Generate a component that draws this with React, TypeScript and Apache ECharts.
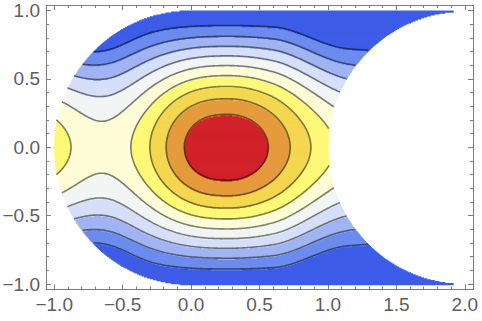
import React, { useEffect, useRef } from "react";
import * as echarts from "echarts";

// ---- axes / ticks ----
const xRange = [-1.06, 2.06];
const yRange = [-1.04, 1.04];
const xMajorTicks = [-1, -0.5, 0, 0.5, 1, 1.5, 2];
const yMajorTicks = [-1, -0.5, 0, 0.5, 1];
const xMinorTicks = [-0.9, -0.8, -0.7, -0.6, -0.4, -0.3, -0.2, -0.1, 0.1, 0.2, 0.3, 0.4, 0.6, 0.7, 0.8, 0.9, 1.1, 1.2, 1.3, 1.4, 1.6, 1.7, 1.8, 1.9];
const yMinorTicks = [-0.9, -0.8, -0.7, -0.6, -0.4, -0.3, -0.2, -0.1, 0.1, 0.2, 0.3, 0.4, 0.6, 0.7, 0.8, 0.9];

// ---- contour levels and band colours (low -> high) ----
const contourLevels = [1, 2, 3, 4, 5, 6, 7, 8, 9];
const bandColors = ["#3d5de8", "#6c8bee", "#a0b4f3", "#d6dffa", "#f3f5f4", "#fdfcd6", "#fdf978", "#f4d650", "#e59b3d", "#d02228"];

// ---- field (peak near x=0.27, ridge along y=0, rise at left rim) ----
const peakParams = [0.27, 4.5, 5.4]; // centre x, base, amplitude
const peakLeftShape = [0.631, 2.5]; // width, power
const peakRightShape = [0.69, 2];
const leftBump = [2.45, -1.17, 0.401]; // amplitude, centre, width
const leftPinch = [2.2, -0.5, 0.1]; // strength, x, softness
const rightPinch = [0.13, 0.6, 1.15]; // amount, from x, to x
const yProfilePower = [1.3];

// ---- region: unit disk ∪ strip x≥0, minus disk at (2,0) ----
const regionDisks = [[0, 0, 1], [2, 0, 1]];
const regionBox = [-1, 2, -1, 1];

function inside(x: number, y: number) {
  if (x < regionBox[0] || x > regionBox[1] || y < regionBox[2] || y > regionBox[3]) return false;
  const [ax, ay, ar] = regionDisks[0];
  if (x < 0 && (x - ax) ** 2 + (y - ay) ** 2 > ar * ar) return false;
  const [bx, by, br] = regionDisks[1];
  if ((x - bx) ** 2 + (y - by) ** 2 < br * br) return false;
  return true;
}

function ridge(x: number) {
  const dx = x - peakParams[0];
  const p = dx < 0 ? Math.exp(-Math.pow(-dx / peakLeftShape[0], peakLeftShape[1])) : Math.exp(-Math.pow(dx / peakRightShape[0], peakRightShape[1]));
  const r = leftBump[0] * Math.exp(-(((x - leftBump[1]) / leftBump[2]) ** 2));
  return peakParams[1] + peakParams[2] * p + r;
}

function smoothstep(a: number, b: number, x: number) {
  const t = Math.min(1, Math.max(0, (x - a) / (b - a)));
  return t * t * (3 - 2 * t);
}

function field(x: number, y: number) {
  const q = leftPinch[0] / (1 + Math.exp((x - leftPinch[1]) / leftPinch[2]));
  const w = 1 - rightPinch[0] * smoothstep(rightPinch[1], rightPinch[2], x);
  const u = Math.min(Math.abs(y) / w, 1);
  const h = Math.pow(Math.cos((u * Math.PI) / 2), yProfilePower[0]);
  return ridge(x) * h - q * y * y;
}

function bandOf(v: number) {
  let b = 0;
  for (const L of contourLevels) if (v >= L) b++;
  return b;
}

// ---- filled bands as row runs ----
function buildRuns() {
  const ROWS = 280, COLS = 1500;
  const runs: number[][] = [];
  for (let j = 0; j < ROWS; j++) {
    const y0 = -1 + (j * 2) / ROWS, y1 = -1 + ((j + 1) * 2) / ROWS, yc = (y0 + y1) / 2;
    let cur = -2, start = 0;
    for (let i = 0; i <= COLS; i++) {
      const xc = -1 + ((i + 0.5) * 3) / COLS;
      const b = i < COLS && inside(xc, yc) ? bandOf(field(xc, yc)) : -1;
      if (b !== cur) {
        if (cur >= 0) runs.push([-1 + (start * 3) / COLS, -1 + (i * 3) / COLS, y0, y1, cur]);
        cur = b;
        start = i;
      }
    }
  }
  return runs;
}

// ---- contour lines via marching squares ----
const STEP = 0.008, NX = 375, NY = 250;
function buildContours() {
  const W = NX + 1;
  const gv = new Float64Array(W * (NY + 1));
  for (let j = 0; j <= NY; j++) for (let i = 0; i <= NX; i++) gv[j * W + i] = field(-1 + i * STEP, -1 + j * STEP);
  const table: Record<number, number[][]> = {
    1: [[3, 0]], 2: [[0, 1]], 3: [[3, 1]], 4: [[1, 2]], 6: [[0, 2]], 7: [[3, 2]], 8: [[2, 3]], 9: [[0, 2]],
    11: [[1, 2]], 12: [[1, 3]], 13: [[0, 1]], 14: [[0, 3]],
  };
  const all: number[][][] = [];
  for (const L of contourLevels) {
    const segA: number[] = [], segB: number[] = [];
    const pts = new Map<number, number[]>();
    const adj = new Map<number, number[]>();
    const edge = (i: number, j: number, dir: number) => {
      const key = (j * W + i) * 2 + dir;
      if (!pts.has(key)) {
        const a = gv[j * W + i];
        const b = dir === 0 ? gv[j * W + i + 1] : gv[(j + 1) * W + i];
        const t = (L - a) / (b - a);
        pts.set(key, dir === 0 ? [-1 + (i + t) * STEP, -1 + j * STEP] : [-1 + i * STEP, -1 + (j + t) * STEP]);
      }
      return key;
    };
    for (let j = 0; j < NY; j++) {
      for (let i = 0; i < NX; i++) {
        const v0 = gv[j * W + i], v1 = gv[j * W + i + 1], v2 = gv[(j + 1) * W + i + 1], v3 = gv[(j + 1) * W + i];
        const c = (v0 >= L ? 1 : 0) | (v1 >= L ? 2 : 0) | (v2 >= L ? 4 : 0) | (v3 >= L ? 8 : 0);
        if (c === 0 || c === 15) continue;
        let pairs = table[c];
        if (c === 5 || c === 10) {
          const hi = (v0 + v1 + v2 + v3) / 4 >= L;
          if (c === 5) pairs = hi ? [[0, 1], [2, 3]] : [[3, 0], [1, 2]];
          else pairs = hi ? [[3, 0], [1, 2]] : [[0, 1], [2, 3]];
        }
        const ek = (e: number) => (e === 0 ? edge(i, j, 0) : e === 1 ? edge(i + 1, j, 1) : e === 2 ? edge(i, j + 1, 0) : edge(i, j, 1));
        for (const [ea, eb] of pairs) {
          const ka = ek(ea), kb = ek(eb);
          const pa = pts.get(ka)!, pb = pts.get(kb)!;
          if (!inside((pa[0] + pb[0]) / 2, (pa[1] + pb[1]) / 2)) continue;
          const s = segA.length;
          segA.push(ka);
          segB.push(kb);
          if (!adj.has(ka)) adj.set(ka, []);
          if (!adj.has(kb)) adj.set(kb, []);
          adj.get(ka)!.push(s);
          adj.get(kb)!.push(s);
        }
      }
    }
    const used = new Uint8Array(segA.length);
    const walk = (start: number) => {
      const out: number[] = [];
      let key = start;
      for (;;) {
        const list = adj.get(key) || [];
        let nx = -1;
        for (const t of list) if (!used[t]) { nx = t; break; }
        if (nx < 0) break;
        used[nx] = 1;
        key = segA[nx] === key ? segB[nx] : segA[nx];
        out.push(key);
      }
      return out;
    };
    for (let s = 0; s < segA.length; s++) {
      if (used[s]) continue;
      used[s] = 1;
      const fwd = walk(segB[s]);
      const back = walk(segA[s]);
      const keys = back.reverse().concat([segA[s], segB[s]], fwd);
      all.push(keys.map((k) => pts.get(k)!));
    }
  }
  return all;
}

const frameColor = "#7d7d7d";
const labelColor = "#5e5e5e";
const fmt = (v: number) => (v < 0 ? "\u2212" : "") + Math.abs(v).toFixed(1);

function axis(position: string, range: number[], values: number[], len: number, label: boolean, line: boolean, margin: number) {
  return {
    type: "value",
    position,
    min: range[0],
    max: range[1],
    axisLine: { show: line, onZero: false, lineStyle: { color: frameColor, width: 1 } },
    axisTick: { show: true, inside: true, length: len, customValues: values, lineStyle: { color: frameColor, width: 1 } },
    axisLabel: label
      ? { show: true, customValues: values, formatter: fmt, color: labelColor, fontSize: 19, fontFamily: "'Liberation Sans', Arial, sans-serif", margin }
      : { show: false },
    splitLine: { show: false },
  };
}

export default function App() {
  const ref = useRef<HTMLDivElement>(null);
  useEffect(() => {
    document.body.style.margin = "0";
    const chart = echarts.init(ref.current!, null, { renderer: "svg" });
    const runs = buildRuns();
    const chains = buildContours();
    const lineSeries = chains.map((c) => ({
      type: "line",
      data: c,
      xAxisIndex: 0,
      yAxisIndex: 0,
      showSymbol: false,
      symbol: "none",
      silent: true,
      z: 3,
      lineStyle: { color: "rgba(0,0,0,0.5)", width: 1.6 },
    }));
    chart.setOption({
      animation: false,
      grid: { left: 46, right: 9, top: 5, bottom: 31.5, containLabel: false, outerBoundsMode: "none" },
      xAxis: [
        axis("bottom", xRange, xMajorTicks, 5, true, true, 5),
        axis("bottom", xRange, xMinorTicks, 3, false, false, 0),
        axis("top", xRange, xMajorTicks, 5, false, true, 0),
        axis("top", xRange, xMinorTicks, 3, false, false, 0),
      ],
      yAxis: [
        axis("left", yRange, yMajorTicks, 5, true, true, 6),
        axis("left", yRange, yMinorTicks, 3, false, false, 0),
        axis("right", yRange, yMajorTicks, 5, false, true, 0),
        axis("right", yRange, yMinorTicks, 3, false, false, 0),
      ],
      series: [
        {
          type: "custom",
          xAxisIndex: 0,
          yAxisIndex: 0,
          silent: true,
          z: 1,
          encode: { x: [0, 1], y: [2, 3] },
          data: runs,
          renderItem: (_p: any, api: any) => {
            const a = api.coord([api.value(0), api.value(3)]);
            const b = api.coord([api.value(1), api.value(2)]);
            return {
              type: "rect",
              shape: { x: a[0], y: a[1], width: b[0] - a[0] + 0.4, height: b[1] - a[1] + 1.2 },
              style: { fill: bandColors[api.value(4)] },
            };
          },
        },
        ...lineSeries,
      ],
    });
    return () => chart.dispose();
  }, []);
  return <div ref={ref} style={{ width: 482, height: 321 }} />;
}
